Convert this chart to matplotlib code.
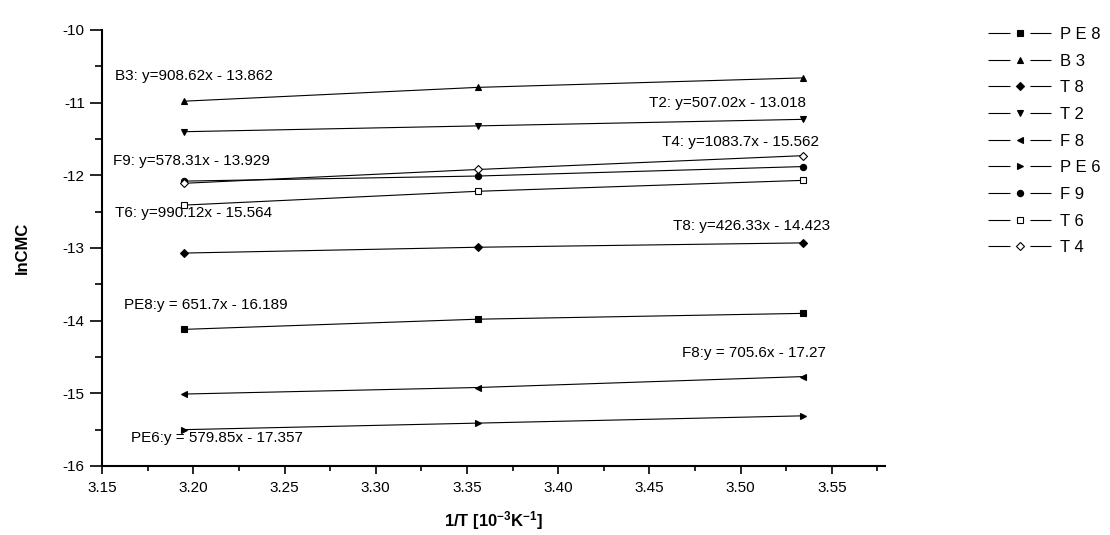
import matplotlib
matplotlib.use("Agg")
import matplotlib.pyplot as plt
from matplotlib.lines import Line2D
from matplotlib.legend_handler import HandlerTuple
from matplotlib.ticker import MultipleLocator

plt.rcParams['font.family'] = ['Liberation Sans', 'DejaVu Sans']
plt.rcParams['mathtext.default'] = 'regular'
plt.rcParams['lines.scale_dashes'] = False

# 1/T in 10^-3 K^-1 (313, 298, 283 K)
inv_T = [3.195, 3.356, 3.534]

# lnCMC for each surfactant
PE8 = [-14.12, -13.98, -13.90]
B3 = [-10.98, -10.79, -10.66]
T8 = [-13.07, -12.99, -12.93]
T2 = [-11.40, -11.32, -11.23]
F8 = [-15.01, -14.92, -14.77]
PE6 = [-15.50, -15.41, -15.31]
F9 = [-12.08, -12.01, -11.88]
T6 = [-12.41, -12.22, -12.07]
T4 = [-12.11, -11.92, -11.73]

legend_names = ['P E 8', 'B 3', 'T 8', 'T 2', 'F 8', 'P E 6', 'F 9', 'T 6', 'T 4']
series = [PE8, B3, T8, T2, F8, PE6, F9, T6, T4]
markers = ['s', '^', 'D', 'v', '<', '>', 'o', 's', 'D']
filled = [True, True, True, True, True, True, True, False, False]

# fitted lines written next to the data
fit_text = ['B3: y=908.62x - 13.862', 'T2: y=507.02x - 13.018', 'F9: y=578.31x - 13.929',
            'T4: y=1083.7x - 15.562', 'T6: y=990.12x - 15.564', 'T8: y=426.33x - 14.423',
            'PE8:y = 651.7x - 16.189', 'F8:y = 705.6x - 17.27', 'PE6:y = 579.85x - 17.357']
fit_x = [3.157, 3.450, 3.156, 3.457, 3.157, 3.463, 3.162, 3.468, 3.166]
fit_y = [-10.64, -11.01, -11.80, -11.54, -12.52, -12.70, -13.79, -14.44, -15.62]

fig = plt.figure(figsize=(11.1, 5.35), dpi=100)
ax = fig.add_axes([0.092, 0.129, 0.705, 0.815])

handles = []
for i in range(len(series)):
    if filled[i]:
        fc = 'black'
    else:
        fc = 'white'
    ms = 4.5
    if markers[i] == 'D':
        ms = 4
    ax.plot(inv_T, series[i], color='black', lw=0.8, marker=markers[i],
            markersize=ms, markerfacecolor=fc, markeredgecolor='black',
            markeredgewidth=0.8)
    # legend key: line broken around the symbol
    seg = Line2D([], [], color='black', lw=0.8, dashes=(15.8, 14.4))
    sym = Line2D([], [], ls='none', marker=markers[i], markersize=ms,
                 markerfacecolor=fc, markeredgecolor='black', markeredgewidth=0.8)
    handles.append((seg, sym))

for t, x, y in zip(fit_text, fit_x, fit_y):
    ax.text(x, y, t, fontsize=11, ha='left', va='center')

ax.set_xlim(3.15, 3.579)
ax.set_ylim(-16, -10)
ax.xaxis.set_major_locator(MultipleLocator(0.05))
ax.xaxis.set_minor_locator(MultipleLocator(0.025))
ax.yaxis.set_major_locator(MultipleLocator(1))
ax.yaxis.set_minor_locator(MultipleLocator(0.5))
ax.xaxis.set_major_formatter(plt.FormatStrFormatter('%.2f'))
ax.yaxis.set_major_formatter(plt.FormatStrFormatter('%d'))

ax.spines['top'].set_visible(False)
ax.spines['right'].set_visible(False)
ax.spines['left'].set_linewidth(1.5)
ax.spines['bottom'].set_linewidth(1.5)
ax.tick_params(axis='x', which='major', direction='out', length=6, width=1.2, labelsize=11, pad=5)
ax.tick_params(axis='x', which='minor', direction='out', length=3.5, width=1.2)
ax.tick_params(axis='y', which='major', direction='out', length=8.5, width=1.2, labelsize=11, pad=4)
ax.tick_params(axis='y', which='minor', direction='out', length=5, width=1.2)

ax.set_xlabel(r'1/T [10$^{-3}$K$^{-1}$]', fontsize=12, fontweight='bold', labelpad=10)
ax.set_ylabel('lnCMC', fontsize=12, fontweight='bold', labelpad=24)

fig.legend(handles, legend_names, handler_map={tuple: HandlerTuple(ndivide=1, pad=0)},
           loc='upper left', bbox_to_anchor=(0.884, 0.962), frameon=False,
           handlelength=3.8, handletextpad=0.5, labelspacing=0.7,
           fontsize=12, borderaxespad=0)

fig.savefig('out.png', dpi=100)
